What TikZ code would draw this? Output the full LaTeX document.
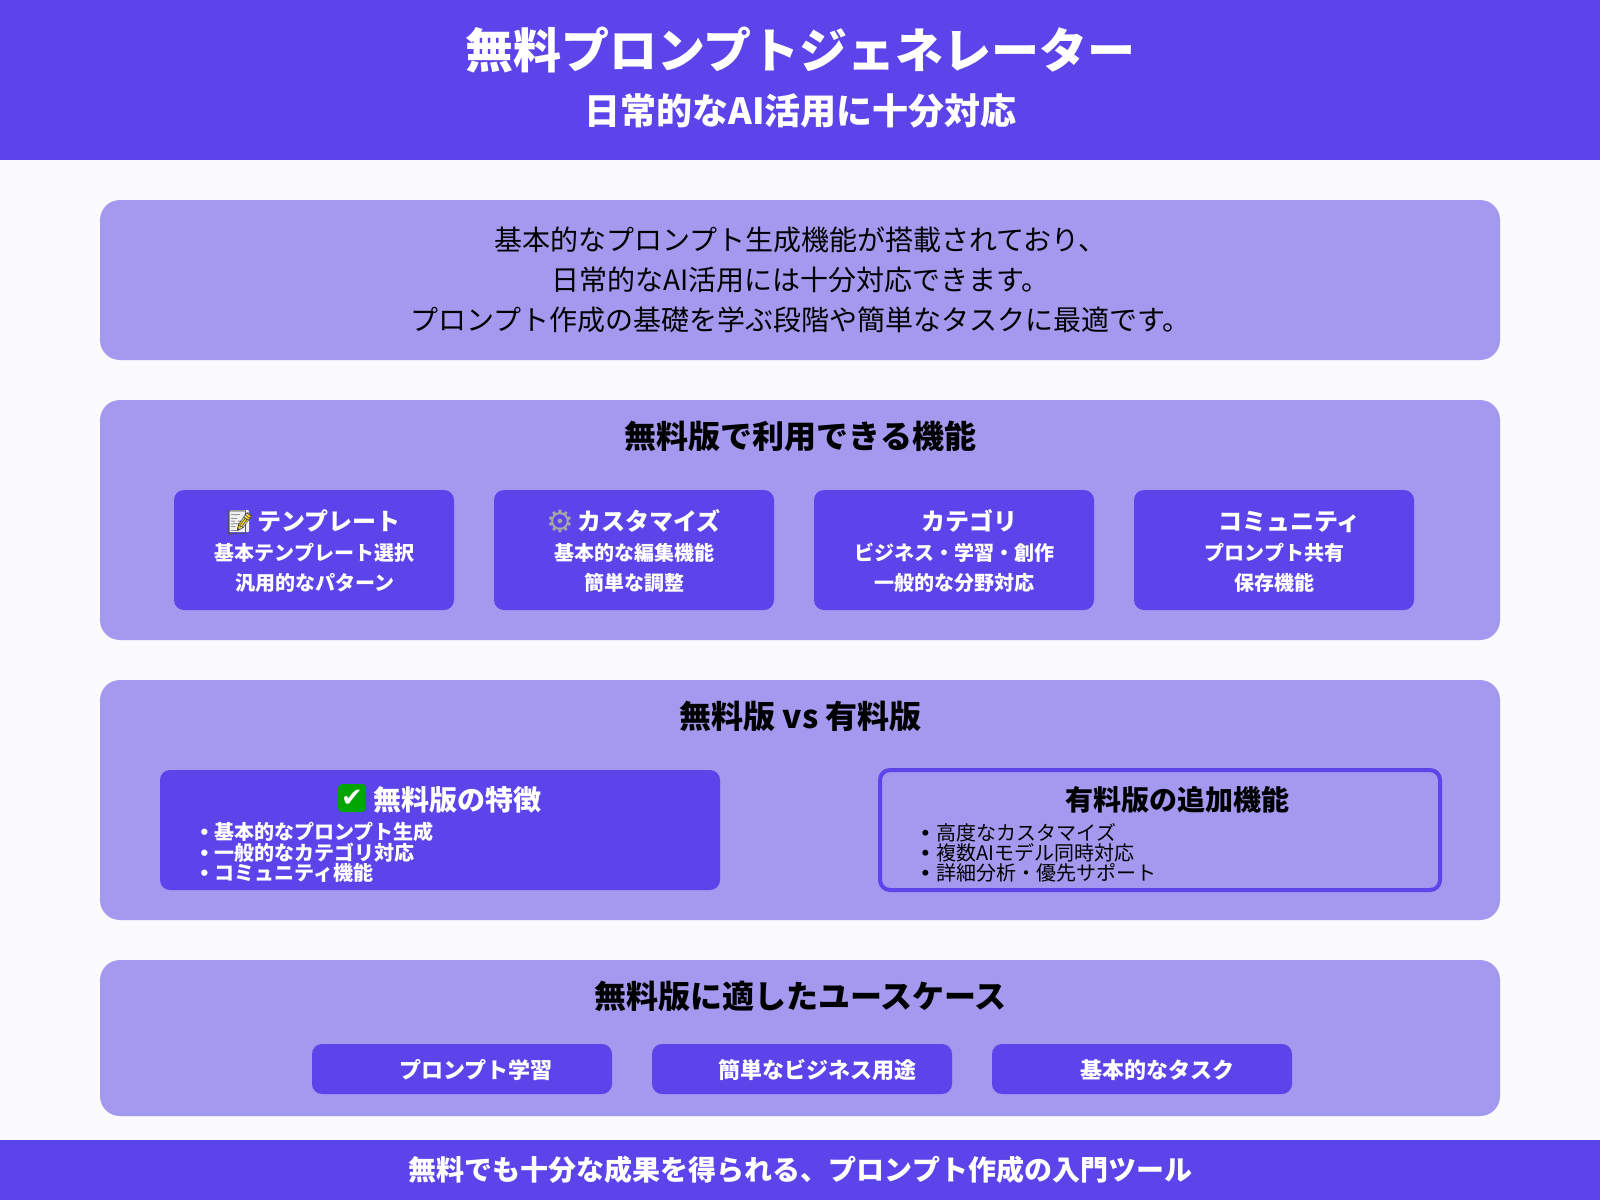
\documentclass[tikz,border=0pt]{standalone}
\usepackage{fontspec}
\setmainfont{Noto Sans CJK JP}
\newfontfamily\emojifont{Noto Emoji}
\newfontfamily\bulletfont{Liberation Sans}
\newfontfamily\symfont{DejaVu Sans}
\newcommand{\fsz}[1]{\fontsize{#1}{#1}\selectfont}
\newcommand{\bul}[1]{{\fontsize{22}{22}\selectfont\bulletfont •}\hspace{#1}}
\definecolor{brandc}{HTML}{5B45EA}
\definecolor{panelc}{HTML}{A399EF}
\definecolor{pagec}{HTML}{FBFAFF}
\tikzset{
  band/.style={fill=brandc,draw=none,minimum width=1600pt,inner sep=0pt,outer sep=0pt},
  panel/.style={fill=panelc,draw=none,rounded corners=20pt,minimum width=1400pt,inner sep=0pt,outer sep=0pt},
  card/.style={fill=brandc,draw=none,rounded corners=10pt,minimum width=280pt,minimum height=120pt,inner sep=0pt,outer sep=0pt},
  pill/.style={fill=brandc,draw=none,rounded corners=10pt,minimum width=300pt,minimum height=50pt,inner sep=0pt,outer sep=0pt},
  txt/.style={inner sep=0pt,outer sep=0pt,anchor=base},
  txtl/.style={inner sep=0pt,outer sep=0pt,anchor=base west},
  white/.style={text=white},
  black/.style={text=black},
}
\begin{document}
\begin{tikzpicture}[x=1pt,y=-1pt]
\useasboundingbox (0,0) rectangle (1600,1200);
\fill[pagec] (0,0) rectangle (1600,1200);
% header
\node[band,minimum height=160pt] (head) at (800,80) {};
\node[txt,white,font=\fsz{48}\bfseries] (title) at (800.5,68) {無料プロンプトジェネレーター};
\node[txt,white,font=\fsz{36}\bfseries] (subt) at (800.5,124) {日常的なAI活用に十分対応};
% intro
\node[panel,minimum height=160pt] (intro) at (800,280) {};
\node[txt,black,font=\fsz{28}] (i1) at (800.5,250) {基本的なプロンプト生成機能が搭載されており、};
\node[txt,black,font=\fsz{28}] (i2) at (800.5,290) {日常的なAI活用には十分対応できます。};
\node[txt,black,font=\fsz{28}] (i3) at (800.5,330) {プロンプト作成の基礎を学ぶ段階や簡単なタスクに最適です。};
% features
\node[panel,minimum height=240pt] (feat) at (800,520) {};
\node[txt,black,font=\fsz{32}\bfseries] (featt) at (800.5,448.5) {無料版で利用できる機能};
\node[card] (c1) at (314,550) {};
\node[card] (c2) at (634,550) {};
\node[card] (c3) at (954,550) {};
\node[card] (c4) at (1274,550) {};
% memo emoji: paper backing and pencil colour under the glyph
\fill[rounded corners=1pt,fill=black!6] (229.5,510) rectangle (249,532);
\draw[line width=3.5pt,color=yellow!75!orange] (250,515) -- (238,528);
\node[txt,text=gray!60!black,font=\fsz{23}\emojifont] (e1) at (240,530) {📝};
\node[txt,text=gray!70,font=\fsz{31}\symfont] (e2) at (560,532.5) {⚙};
\node[txt,white,font=\fsz{24}\bfseries] (c1t) at (329,530) {テンプレート};
\node[txt,white,font=\fsz{24}\bfseries] (c2t) at (649,530) {カスタマイズ};
\node[txt,white,font=\fsz{24}\bfseries] (c3t) at (969,530) {カテゴリ};
\node[txt,white,font=\fsz{24}\bfseries] (c4t) at (1289.5,530) {コミュニティ};
\node[txt,white,font=\fsz{20}\bfseries] (c1a) at (314.5,560) {基本テンプレート選択};
\node[txt,white,font=\fsz{20}\bfseries] (c1b) at (314.5,590) {汎用的なパターン};
\node[txt,white,font=\fsz{20}\bfseries] (c2a) at (634,560) {基本的な編集機能};
\node[txt,white,font=\fsz{20}\bfseries] (c2b) at (634,590) {簡単な調整};
\node[txt,white,font=\fsz{20}\bfseries] (c3a) at (954,560) {ビジネス・学習・創作};
\node[txt,white,font=\fsz{20}\bfseries] (c3b) at (954,590) {一般的な分野対応};
\node[txt,white,font=\fsz{20}\bfseries] (c4a) at (1274.5,560) {プロンプト共有};
\node[txt,white,font=\fsz{20}\bfseries] (c4b) at (1274,590) {保存機能};
% versus
\node[panel,minimum height=240pt] (vs) at (800,800) {};
\node[txt,black,font=\fsz{32}\bfseries] (vst) at (800.5,728) {無料版 vs 有料版};
\node[fill=brandc,draw=none,rounded corners=10pt,minimum width=560pt,minimum height=120pt,inner sep=0pt,outer sep=0pt] (free) at (440,830) {};
\node[fill=panelc,draw=brandc,line width=4pt,rounded corners=10pt,minimum width=560pt,minimum height=120pt,inner sep=0pt,outer sep=0pt] (paid) at (1160,830) {};
\node[fill=green!65!black,rounded corners=4pt,minimum width=28pt,minimum height=28pt,inner sep=0pt] (chkbg) at (352,798) {};
\node[white,inner sep=0pt,font=\fsz{26}\symfont] (chk) at (352,798) {✔};
\node[txt,white,font=\fsz{28}\bfseries] (fret) at (457,810) {無料版の特徴};
\node[txtl,white,font=\fsz{20}\bfseries] (f1) at (200.5,839) {\bul{6.3pt}基本的なプロンプト生成};
\node[txtl,white,font=\fsz{20}\bfseries] (f2) at (200.5,860) {\bul{6.3pt}一般的なカテゴリ対応};
\node[txtl,white,font=\fsz{20}\bfseries] (f3) at (200.5,880) {\bul{6.3pt}コミュニティ機能};
\node[txt,black,font=\fsz{28}\bfseries] (pait) at (1177,810) {有料版の追加機能};
\node[txtl,black,font=\fsz{20}] (p1) at (921.5,840) {\bul{7.5pt}高度なカスタマイズ};
\node[txtl,black,font=\fsz{20}] (p2) at (921.5,860) {\bul{7.5pt}複数AIモデル同時対応};
\node[txtl,black,font=\fsz{20}] (p3) at (921.5,880) {\bul{7.5pt}詳細分析・優先サポート};
% use cases
\node[panel,minimum height=156pt] (uc) at (800,1038) {};
\node[txt,black,font=\fsz{32}\bfseries] (uct) at (800.5,1008) {無料版に適したユースケース};
\node[pill] (u1) at (462,1069) {};
\node[pill] (u2) at (802,1069) {};
\node[pill] (u3) at (1142,1069) {};
\node[txt,white,font=\fsz{22}\bfseries] (u1t) at (476,1078) {プロンプト学習};
\node[txt,white,font=\fsz{22}\bfseries] (u2t) at (817,1078) {簡単なビジネス用途};
\node[txt,white,font=\fsz{22}\bfseries] (u3t) at (1157,1078) {基本的なタスク};
% footer
\node[band,minimum height=60pt] (foot) at (800,1170) {};
\node[txt,white,font=\fsz{28}\bfseries] (foott) at (800.5,1180) {無料でも十分な成果を得られる、プロンプト作成の入門ツール};
\end{tikzpicture}
\end{document}
